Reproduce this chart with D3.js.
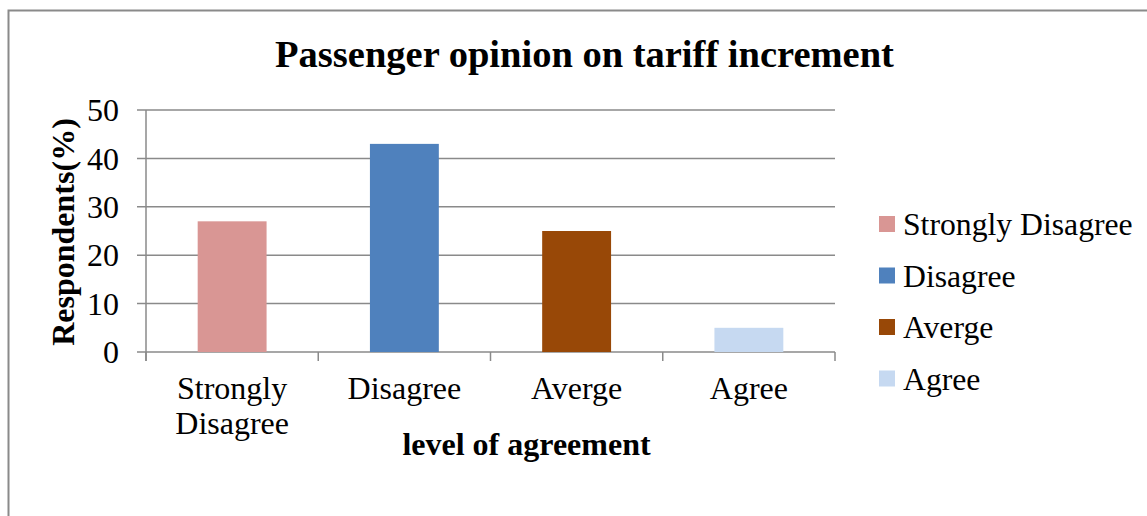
<!DOCTYPE html>
<html>
<head>
<meta charset="utf-8">
<script src="https://cdn.jsdelivr.net/npm/d3@7"></script>
<style>
  html, body { margin: 0; padding: 0; background: #fff; }
  svg { display: block; }
  text { font-family: "Liberation Serif", "Times New Roman", serif; fill: #000; }
</style>
</head>
<body>
<svg id="chart" width="1147" height="516"></svg>
<script>
// Survey results: share of passengers at each level of agreement
const categories = ["Strongly Disagree", "Disagree", "Averge", "Agree"];
const values = [27, 43, 25, 5];
const colors = ["#d99694", "#4f81bd", "#984807", "#c6d9f1"];
const yTicks = [0, 10, 20, 30, 40, 50];
const title = "Passenger opinion on tariff increment";
const xTitle = "level of agreement";
const yTitle = "Respondents(%)";

const svg = d3.select("#chart");
const W = 1147, H = 516;
const gridColor = "#8a8a8a";

// outer chart frame
svg.append("rect")
  .attr("x", 8.5).attr("y", 10.5)
  .attr("width", W + 10).attr("height", H + 10)
  .attr("fill", "none").attr("stroke", "#8a8a8a").attr("stroke-width", 2);

const plot = { left: 146, right: 835, top: 110, bottom: 352 };

const x = d3.scaleBand().domain(categories)
  .range([plot.left, plot.right]).paddingInner(0.6).paddingOuter(0.3);
const xOuter = d3.scaleBand().domain(categories).range([plot.left, plot.right]);
const y = d3.scaleLinear().domain([0, 50]).range([plot.bottom, plot.top]);

// horizontal gridlines with outside tick stubs
svg.append("g").selectAll("line").data(yTicks).join("line")
  .attr("x1", plot.left - 9).attr("x2", plot.right)
  .attr("y1", d => y(d)).attr("y2", d => y(d))
  .attr("stroke", gridColor).attr("stroke-width", 1.5);

// y axis line
svg.append("line")
  .attr("x1", plot.left).attr("x2", plot.left)
  .attr("y1", plot.top).attr("y2", plot.bottom + 9)
  .attr("stroke", gridColor).attr("stroke-width", 1.5);

// category boundary ticks on x axis
const bounds = categories.map(c => xOuter(c)).concat([plot.right]);
svg.append("g").selectAll("line").data(bounds).join("line")
  .attr("x1", d => d).attr("x2", d => d)
  .attr("y1", plot.bottom).attr("y2", plot.bottom + 9)
  .attr("stroke", gridColor).attr("stroke-width", 1.5);

// y tick labels
svg.append("g").selectAll("text").data(yTicks).join("text")
  .attr("x", plot.left - 27).attr("y", d => y(d))
  .attr("dy", "0.35em")
  .attr("text-anchor", "end")
  .style("font-size", "32px")
  .text(d => d);

// bars
svg.append("g").selectAll("rect").data(values).join("rect")
  .attr("x", (d, i) => x(categories[i]))
  .attr("width", x.bandwidth())
  .attr("y", d => y(d))
  .attr("height", d => y(0) - y(d))
  .attr("fill", (d, i) => colors[i]);

// category labels (wrapped)
const xl = svg.append("g").selectAll("text").data(categories).join("text")
  .attr("x", d => xOuter(d) + xOuter.bandwidth() / 2)
  .attr("y", 399)
  .attr("text-anchor", "middle")
  .style("font-size", "32px");
xl.each(function (d) {
  const words = d === "Strongly Disagree" ? ["Strongly", "Disagree"] : [d];
  const t = d3.select(this);
  words.forEach((w, k) => {
    t.append("tspan")
      .attr("x", xOuter(d) + xOuter.bandwidth() / 2)
      .attr("dy", k === 0 ? 0 : 35)
      .text(w);
  });
});

// title
svg.append("text")
  .attr("x", 584.5).attr("y", 67)
  .attr("text-anchor", "middle")
  .style("font-size", "38.5px").style("font-weight", "bold")
  .text(title);

// x axis title
svg.append("text")
  .attr("x", 526.5).attr("y", 455)
  .attr("text-anchor", "middle")
  .style("font-size", "32px").style("font-weight", "bold")
  .text(xTitle);

// y axis title
svg.append("text")
  .attr("transform", `translate(74, ${(plot.top + plot.bottom) / 2 + 1}) rotate(-90)`)
  .attr("text-anchor", "middle")
  .style("font-size", "32px").style("font-weight", "bold")
  .text(yTitle);

// legend
const legend = svg.append("g").selectAll("g").data(categories).join("g")
  .attr("transform", (d, i) => `translate(879, ${224 + i * 51.5})`);
legend.append("rect")
  .attr("x", 0).attr("y", -8).attr("width", 16).attr("height", 16)
  .attr("fill", (d, i) => colors[i]);
legend.append("text")
  .attr("x", 24).attr("y", 0).attr("dy", "0.35em")
  .style("font-size", "31.7px")
  .text(d => d);
</script>
</body>
</html>
